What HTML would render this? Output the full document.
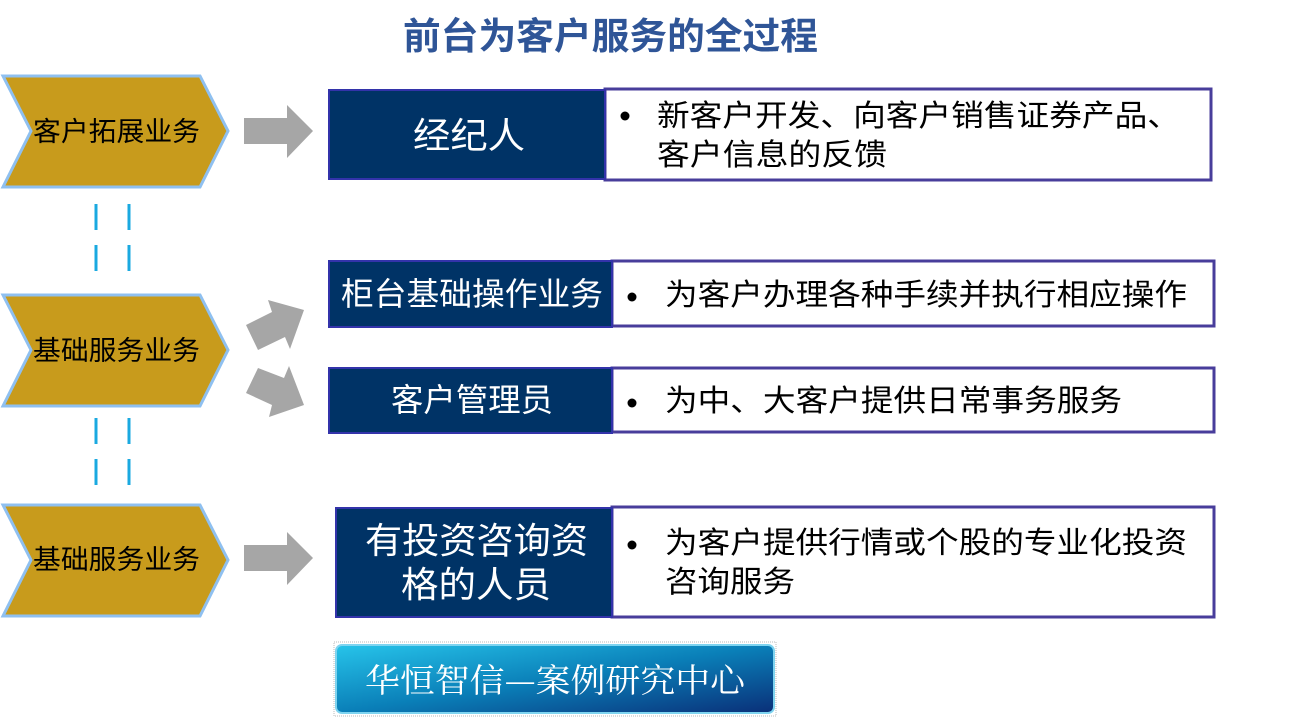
<!DOCTYPE html>
<html><head><meta charset="utf-8"><style>
body{margin:0;width:1289px;height:719px;background:#fff;overflow:hidden;font-family:"Liberation Sans","Noto Sans CJK SC",sans-serif}
</style></head><body>
<svg width="1289" height="719" xmlns="http://www.w3.org/2000/svg" font-family="Liberation Sans, Noto Sans CJK SC, sans-serif">
<defs>
<linearGradient id="btn" x1="0" y1="0" x2="1" y2="1">
<stop offset="0" stop-color="#27c4ea"/><stop offset="0.5" stop-color="#0a7fb8"/><stop offset="1" stop-color="#0a2f78"/></linearGradient>
</defs>
<text x="403" y="49" font-size="37" font-weight="bold" fill="#2f5597" textLength="415" lengthAdjust="spacingAndGlyphs">前台为客户服务的全过程</text>

<g stroke="#8fc0f0" stroke-width="3" fill="#c89b1c">
<polygon points="3,76 200,76 228,131 200,187 3,187 31,131"/>
<polygon points="3,295 200,295 228,350 200,406 3,406 31,350"/>
<polygon points="3,505 200,505 228,560 200,616 3,616 31,560"/>
</g>
<g font-size="27" fill="#000">
<text x="33" y="141" textLength="167" lengthAdjust="spacingAndGlyphs">客户拓展业务</text>
<text x="33" y="360" textLength="167" lengthAdjust="spacingAndGlyphs">基础服务业务</text>
<text x="33" y="569" textLength="167" lengthAdjust="spacingAndGlyphs">基础服务业务</text>
</g>

<g stroke="#1aa9e0" stroke-width="3" stroke-dasharray="26,15">
<line x1="96" y1="204" x2="96" y2="272"/><line x1="129" y1="204" x2="129" y2="272"/>
<line x1="96" y1="418" x2="96" y2="486"/><line x1="129" y1="418" x2="129" y2="486"/>
</g>

<g fill="#a6a6a6">
<polygon points="244,118 287,118 287,105 313,131 287,158 287,144 244,144"/>
<polygon points="244,545 287,545 287,532 313,558 287,585 287,571 244,571"/>
<polygon points="246,325 272,312 268,300 304,310 290,349 285,337 258,350"/>
<polygon points="246,393 258,368 284,378 289,366 304,405 269,417 272,405"/>
</g>

<g fill="#fff" stroke="#483d9b" stroke-width="3">
<rect x="605" y="89" width="606" height="91"/>
<rect x="612" y="261" width="602" height="65"/>
<rect x="612" y="368" width="602" height="64"/>
<rect x="612" y="507" width="602" height="110"/>
</g>
<g fill="#003366" stroke="#3333aa" stroke-width="2">
<rect x="329" y="90" width="276" height="89"/>
<rect x="329" y="261" width="283" height="66"/>
<rect x="329" y="368" width="283" height="65"/>
<rect x="336" y="508" width="276" height="109"/>
</g>
<g fill="#fff" font-size="36">
<text x="413" y="148" textLength="112" lengthAdjust="spacingAndGlyphs">经纪人</text>
<text x="341" y="305" font-size="32" textLength="262" lengthAdjust="spacingAndGlyphs">柜台基础操作业务</text>
<text x="391" y="411" font-size="32" textLength="162" lengthAdjust="spacingAndGlyphs">客户管理员</text>
<text x="365" y="553" textLength="223" lengthAdjust="spacingAndGlyphs">有投资咨询资</text>
<text x="401" y="597" textLength="150" lengthAdjust="spacingAndGlyphs">格的人员</text>
</g>
<g fill="#000" font-size="30">
<circle cx="625" cy="116" r="4.5"/><circle cx="632" cy="297" r="4.5"/><circle cx="632" cy="403" r="4.5"/><circle cx="632" cy="545" r="4.5"/>
<text x="657" y="126" textLength="523" lengthAdjust="spacingAndGlyphs">新客户开发、向客户销售证券产品、</text>
<text x="657" y="165" textLength="230" lengthAdjust="spacingAndGlyphs">客户信息的反馈</text>
<text x="665" y="305" textLength="522" lengthAdjust="spacingAndGlyphs">为客户办理各种手续并执行相应操作</text>
<text x="665" y="411" textLength="457" lengthAdjust="spacingAndGlyphs">为中、大客户提供日常事务服务</text>
<text x="665" y="553" textLength="522" lengthAdjust="spacingAndGlyphs">为客户提供行情或个股的专业化投资</text>
<text x="665" y="592" textLength="130" lengthAdjust="spacingAndGlyphs">咨询服务</text>
</g>

<rect x="334" y="642" width="442" height="74" fill="none" stroke="#bbb" stroke-dasharray="1,1"/>
<rect x="336" y="645" width="438" height="68" rx="6" fill="url(#btn)" stroke="#7fd4f0" stroke-width="2"/>
<text x="365" y="692" font-size="33" fill="#fff" textLength="380" lengthAdjust="spacingAndGlyphs" font-family="Noto Serif CJK SC, serif">华恒智信—案例研究中心</text>
</svg>
</body></html>
